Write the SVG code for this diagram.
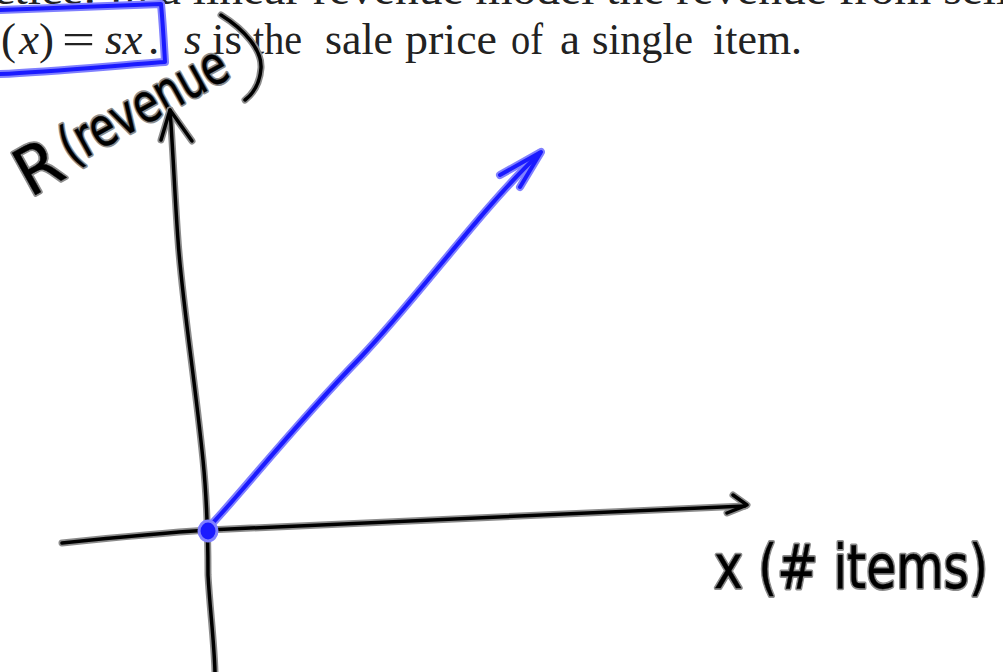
<svg xmlns="http://www.w3.org/2000/svg" width="1003" height="672" viewBox="0 0 1003 672">
<style>
.print{font-family:"Liberation Serif",serif;font-size:45px;fill:#222}
.it{font-style:italic}
.halo{fill:none;stroke:#8c8c8c;stroke-width:7;stroke-linecap:round;stroke-linejoin:round}
.ink{fill:none;stroke:#000;stroke-width:3.5;stroke-linecap:round;stroke-linejoin:round}
.bhalo{fill:none;stroke:#8080ff;stroke-width:8;stroke-linecap:round;stroke-linejoin:round}
.bink{fill:none;stroke:#1a1aff;stroke-width:4;stroke-linecap:round;stroke-linejoin:round}
.hw{font-family:"DejaVu Sans",sans-serif;font-weight:normal}
.hwhalo{fill:#8c8c8c;stroke:#8c8c8c;stroke-width:4;stroke-linejoin:round}
.hwink{fill:#000;stroke:#000;stroke-width:0.4}
</style>
<rect width="1003" height="672" fill="#fff"/>
<g id="printed-text">
<text class="print" x="-70" y="4" textLength="1140" lengthAdjust="spacingAndGlyphs">Practice: In a linear revenue model the revenue from selling</text>
<text class="print" y="54"><tspan x="1">(</tspan><tspan class="it" x="19">x</tspan><tspan x="39">)</tspan><tspan x="62" textLength="33" lengthAdjust="spacingAndGlyphs">=</tspan><tspan class="it" x="105">sx</tspan><tspan x="148">.</tspan><tspan class="it" x="184">s</tspan><tspan x="212">is</tspan><tspan x="253" textLength="49" lengthAdjust="spacingAndGlyphs">the</tspan><tspan x="325" textLength="68" lengthAdjust="spacingAndGlyphs">sale</tspan><tspan x="405" textLength="92" lengthAdjust="spacingAndGlyphs">price</tspan><tspan x="511" textLength="32" lengthAdjust="spacingAndGlyphs">of</tspan><tspan x="560">a</tspan><tspan x="592" textLength="101" lengthAdjust="spacingAndGlyphs">single</tspan><tspan x="713" textLength="89" lengthAdjust="spacingAndGlyphs">item.</tspan></text>
</g>
<g id="blue-box">
<path class="bhalo" d="M0 10 C40 8 100 6 161 4 C163 25 164 45 165 62 C110 66 50 72 0 74"/>
<path class="bink" d="M0 10 C40 8 100 6 161 4 C163 25 164 45 165 62 C110 66 50 72 0 74"/>
</g>
<g id="y-label">
<g transform="translate(30 198) rotate(-29)">
<text class="hw hwhalo" y="0"><tspan x="0" font-size="66" textLength="44" lengthAdjust="spacingAndGlyphs">R</tspan><tspan x="52" dy="-8" font-size="54" textLength="184" lengthAdjust="spacingAndGlyphs">(revenue</tspan></text>
<text class="hw hwink" y="0"><tspan x="0" font-size="66" textLength="44" lengthAdjust="spacingAndGlyphs">R</tspan><tspan x="52" dy="-8" font-size="54" textLength="184" lengthAdjust="spacingAndGlyphs">(revenue</tspan></text>
</g>
<path class="halo" d="M221 15 C245 30 262 50 261 68 C260 82 254 93 245 100"/>
<path class="ink" d="M221 15 C245 30 262 50 261 68 C260 82 254 93 245 100"/>
</g>
<g id="x-label">
<text class="hw hwhalo" x="714" y="588" font-size="60" textLength="274" lengthAdjust="spacingAndGlyphs">x (# items)</text>
<text class="hw hwink" x="714" y="588" font-size="60" textLength="274" lengthAdjust="spacingAndGlyphs">x (# items)</text>
</g>
<g id="connectors">
<g id="y-axis">
<path class="halo" d="M170 110 C173 150 175 200 178 240 C182 300 195 380 203 460 C207 500 208 540 208 575 C210 610 214 640 215 672"/>
<path class="halo" d="M161 140 L170 110 L192 141"/>
<path class="ink" d="M170 110 C173 150 175 200 178 240 C182 300 195 380 203 460 C207 500 208 540 208 575 C210 610 214 640 215 672"/>
<path class="ink" d="M161 140 L170 110 L192 141"/>
</g>
<g id="x-axis">
<path class="halo" d="M62 543 C110 538 160 533 208 530 C380 522 560 514 745 506"/>
<path class="halo" d="M733 495 L747 505 L727 513"/>
<path class="ink" d="M62 543 C110 538 160 533 208 530 C380 522 560 514 745 506"/>
<path class="ink" d="M733 495 L747 505 L727 513"/>
</g>
<g id="revenue-line">
<path class="bhalo" d="M208 528 C240 495 290 430 360 358 C420 295 480 210 540 153"/>
<path class="bhalo" d="M500 175 L541 152 L520 187"/>
<path class="bink" d="M208 528 C240 495 290 430 360 358 C420 295 480 210 540 153"/>
<path class="bink" d="M500 175 L541 152 L520 187"/>
</g>
</g>
<g id="origin">
<ellipse cx="208" cy="531" rx="9" ry="10" fill="#1a1aff" stroke="#8080ff" stroke-width="3"/>
</g>
</svg>
